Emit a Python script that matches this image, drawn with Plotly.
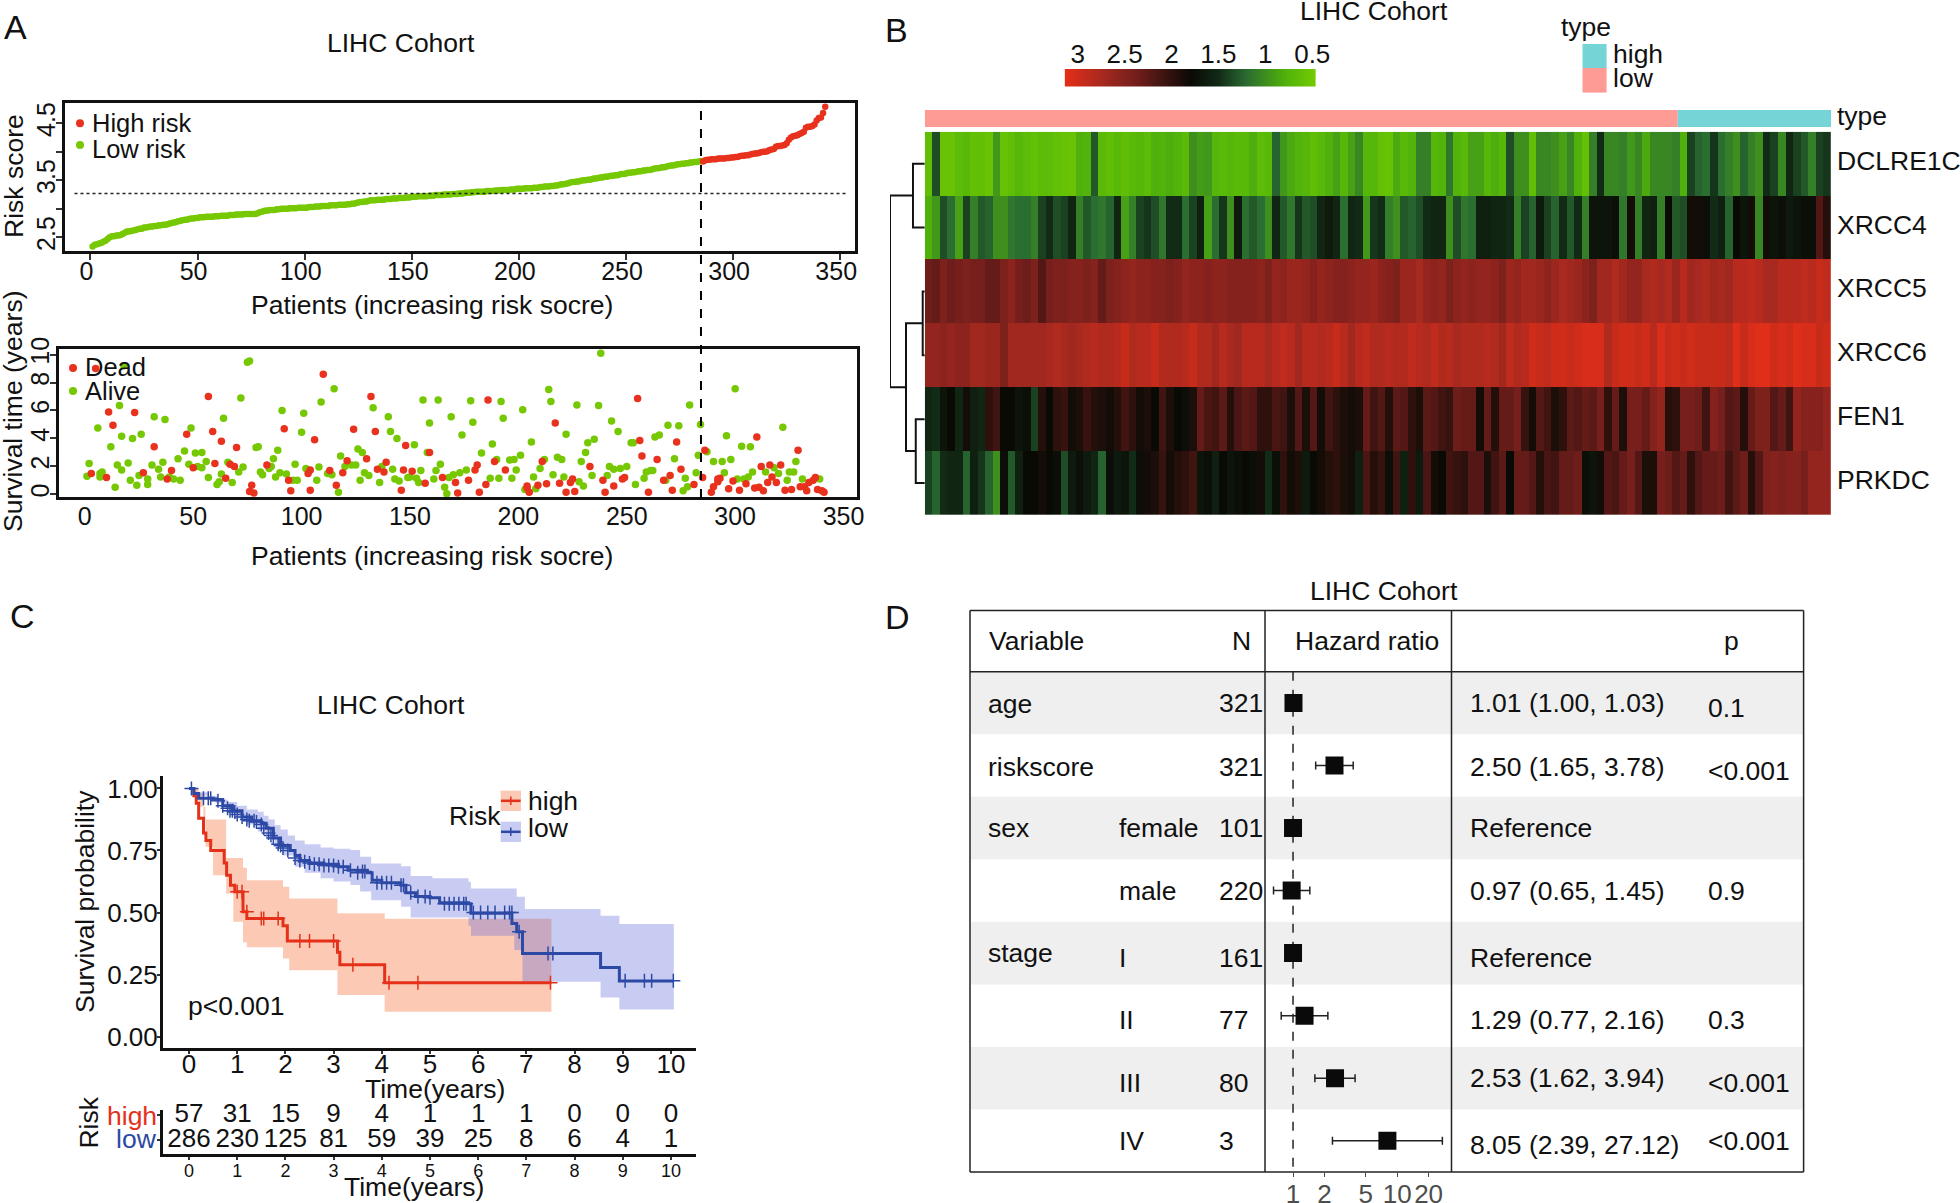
import plotly.graph_objects as go

W, H = 1960, 1203
FONT = "Liberation Sans"
RED = "#E8321E"
GREEN = "#76C803"

# ---------- Panel A data ----------
risk_score = [
2.34,2.37,2.38,2.39,2.40,2.42,2.44,2.47,2.50,2.52,
2.52,2.53,2.53,2.54,2.56,2.58,2.60,2.60,2.61,2.62,
2.63,2.64,2.65,2.65,2.67,2.67,2.68,2.69,2.69,2.70,
2.70,2.71,2.71,2.72,2.72,2.73,2.74,2.75,2.76,2.77,
2.78,2.79,2.80,2.81,2.81,2.82,2.83,2.83,2.84,2.84,
2.85,2.85,2.85,2.86,2.86,2.86,2.86,2.87,2.87,2.87,
2.88,2.88,2.88,2.88,2.89,2.89,2.89,2.90,2.90,2.90,
2.90,2.91,2.91,2.91,2.91,2.91,2.91,2.92,2.94,2.95,
2.96,2.97,2.97,2.98,2.98,2.98,2.99,2.99,3.00,3.00,
3.00,3.00,3.01,3.01,3.01,3.01,3.02,3.02,3.02,3.02,
3.02,3.03,3.03,3.03,3.04,3.04,3.04,3.05,3.05,3.05,
3.05,3.06,3.06,3.06,3.06,3.07,3.07,3.07,3.07,3.08,
3.08,3.09,3.09,3.10,3.11,3.12,3.12,3.13,3.13,3.14,
3.15,3.15,3.15,3.16,3.16,3.16,3.16,3.17,3.17,3.17,
3.18,3.18,3.18,3.19,3.19,3.19,3.20,3.20,3.20,3.21,
3.21,3.21,3.22,3.22,3.22,3.22,3.22,3.23,3.23,3.23,
3.24,3.24,3.24,3.24,3.25,3.25,3.25,3.25,3.26,3.26,
3.26,3.27,3.27,3.27,3.28,3.28,3.28,3.29,3.29,3.30,
3.30,3.30,3.30,3.30,3.31,3.31,3.31,3.31,3.32,3.32,
3.32,3.33,3.33,3.33,3.33,3.34,3.34,3.34,3.35,3.35,
3.35,3.35,3.36,3.36,3.36,3.36,3.37,3.37,3.37,3.38,
3.38,3.39,3.39,3.39,3.40,3.40,3.41,3.41,3.42,3.43,
3.43,3.44,3.45,3.46,3.47,3.47,3.48,3.48,3.49,3.50,
3.50,3.51,3.51,3.52,3.53,3.53,3.54,3.55,3.55,3.56,
3.56,3.57,3.58,3.58,3.59,3.59,3.60,3.61,3.61,3.62,
3.63,3.63,3.64,3.64,3.65,3.66,3.66,3.67,3.67,3.68,
3.68,3.69,3.70,3.71,3.71,3.72,3.73,3.73,3.74,3.75,
3.76,3.76,3.77,3.78,3.78,3.79,3.79,3.80,3.80,3.81,
3.81,3.82,3.82,3.83,3.84,3.83,3.85,3.86,3.86,3.87,
3.87,3.87,3.88,3.88,3.88,3.88,3.89,3.89,3.90,3.90,
3.91,3.91,3.92,3.93,3.93,3.94,3.94,3.95,3.96,3.97,
3.97,3.98,3.99,4.00,4.00,4.01,4.03,4.04,4.05,4.09,
4.10,4.10,4.11,4.12,4.15,4.21,4.25,4.27,4.28,4.29,
4.31,4.33,4.35,4.42,4.44,4.44,4.45,4.48,4.55,4.59,4.60,4.68,4.79]
low_n = 285
risk_cutoff = 3.27
patient_ticks = [0, 50, 100, 150, 200, 250, 300, 350]

dead_x = [3,5,10,11,13,23,27,32,38,40,47,50,57,59,60,63,65,67,69,70,76,77,78,84,92,94,95,103,104,104,106,110,113,116,119,121,124,130,132,134,135,138,139,146,147,148,151,157,159,165,171,172,177,180,181,182,185,186,189,194,204,204,205,209,211,213,217,219,222,224,225,226,233,239,240,244,248,249,255,256,257,260,264,267,270,271,273,275,281,285,286,289,290,292,292,293,297,299,302,305,309,310,311,312,313,315,316,317,319,321,323,326,329,330,332,333,334,336,337,338,340,341]
dead_y = [1.5,9.0,1.2,5.9,4.95,5.85,1.55,3.4,1.1,1.7,4.3,1.9,7.0,4.5,2.2,3.8,1.15,2.15,2.0,3.35,0.2,0.65,0.1,2.1,4.7,1.0,0.25,1.5,1.75,0.3,3.9,8.6,1.7,0.65,1.55,2.4,4.65,2.55,7.0,4.5,1.8,1.6,2.3,0.3,1.75,3.5,1.65,0.8,3.0,1.2,0.85,0.1,1.0,1.75,2.1,0.15,0.7,6.75,2.35,1.75,0.6,0.45,0.15,0.65,2.35,0.75,5.1,0.8,0.15,0.85,1.1,0.2,2.0,1.0,0.15,0.6,1.1,1.2,6.85,3.85,2.75,0.15,2.5,1.0,1.35,0.3,3.75,1.8,0.7,1.2,3.15,0.15,0.55,0.9,1.1,1.15,0.4,0.95,0.3,0.75,0.45,4.1,0.5,2.0,0.25,0.85,2.1,1.25,0.85,2.1,0.3,0.35,3.15,0.55,0.55,0.25,0.85,1.0,1.2,0.35,0.25,0.15]
alive_x = [1,2,6,7,7,8,12,14,15,16,17,17,18,20,21,22,24,25,26,29,29,31,32,34,35,36,37,39,41,43,44,46,48,49,51,52,54,54,56,57,61,62,63,64,66,68,71,72,73,75,76,79,80,81,82,85,86,87,88,89,90,91,93,96,97,98,100,101,102,107,108,109,112,114,115,117,118,120,123,125,126,127,128,129,131,133,136,137,140,141,142,143,144,145,149,150,152,153,154,155,156,158,159,161,162,163,164,166,167,168,169,170,173,174,176,178,179,183,187,188,190,191,192,193,196,197,198,199,201,202,203,206,207,208,210,212,214,215,216,218,220,221,222,227,228,229,230,231,232,234,235,237,238,241,242,243,244,246,247,250,252,253,254,258,259,261,262,263,265,268,269,272,274,276,277,278,279,282,283,284,287,290,294,295,296,298,300,301,303,304,306,307,308,314,318,320,322,324,325,327,328,331,339]
alive_y = [1.3,2.2,4.75,1.5,1.25,1.6,3.4,0.5,2.1,6.35,4.15,1.75,9.2,2.25,1.0,4.0,0.65,1.35,4.3,0.7,1.1,2.1,5.55,1.8,1.25,2.3,5.35,1.25,1.1,2.55,1.0,3.1,2.15,4.75,2.95,2.0,3.0,1.9,2.35,1.2,0.7,0.9,1.45,5.45,2.3,0.85,1.6,6.9,1.95,9.45,9.55,3.35,3.4,1.6,1.4,1.85,2.0,2.55,1.25,3.15,1.55,6.0,1.45,1.0,2.15,1.0,4.45,5.8,1.85,1.0,1.95,6.6,1.5,1.4,7.55,0.15,2.75,2.0,2.1,2.1,3.25,1.0,3.0,1.55,1.35,6.2,0.85,2.0,5.55,4.5,1.8,1.1,4.0,0.95,1.2,1.25,3.55,1.15,0.85,1.7,6.75,3.0,5.1,1.1,1.7,6.75,2.15,0.5,0.05,1.2,5.55,1.4,1.55,4.25,1.75,6.7,5.15,2.95,1.15,3.6,2.5,1.15,6.65,5.45,2.45,1.15,2.5,1.75,2.8,6.05,0.35,3.75,1.25,0.4,1.85,2.5,7.5,6.65,1.4,2.65,2.5,1.25,4.3,6.4,0.9,2.35,0.6,3.0,3.7,1.35,3.95,6.35,10.1,1.35,2.0,5.25,1.8,4.5,1.85,2.0,3.7,3.7,0.7,1.15,1.6,1.7,1.7,4.1,4.25,1.0,4.95,2.55,4.9,0.25,1.15,0.55,6.4,1.55,2.8,5.0,3.05,2.35,2.35,1.55,4.2,2.5,7.55,1.1,3.45,1.1,1.25,3.4,1.6,1.6,1.9,1.5,4.8,1.0,1.6,1.6,2.35,1.1,1.1]

# ---------- Panel B data (one value per ~3 patients, low -> high risk) ----------
genes = ["DCLRE1C", "XRCC4", "XRCC5", "XRCC6", "FEN1", "PRKDC"]
dclre1c = [.65,1.35,.58,.58,.68,.72,.62,.64,.58,.95,.6,.65,.75,.68,.62,.68,.68,.62,.6,.58,.8,.78,1.3,.7,.65,.72,.65,.72,.75,.68,.8,.78,.82,.78,.7,1.0,.92,.95,.75,.7,
 .75,.7,.72,.82,.68,.72,1.25,.95,.85,.78,.75,.65,.72,.8,.9,.75,.9,1.05,.75,.75,.62,.6,.85,.72,.78,1.1,1.1,.75,.78,1.15,.78,.72,.9,.9,.75,.82,.75,1.35,1.0,1.0,
 .65,1.05,1.05,1.0,.9,1.05,.8,.62,1.1,1.5,1.05,1.05,1.1,.95,1.05,.85,1.05,1.05,1.05,1.1,.8,1.4,1.25,1.2,1.45,1.2,1.1,1.0,1.25,1.1,1.0,1.5,1.4,1.05,1.55,1.4,1.3,1.1,1.4,1.45]
xrcc4 = [.8,.95,1.35,1.2,.9,1.4,1.1,1.3,1.25,1.0,1.0,1.15,1.2,1.2,1.1,1.4,1.5,1.35,1.4,1.55,1.1,1.3,1.2,1.15,1.25,1.55,.9,1.1,1.4,1.45,1.35,1.15,1.5,1.5,1.2,1.4,1.6,.9,1.2,1.45,
 1.0,1.65,1.2,1.3,1.2,1.0,1.55,1.3,1.15,1.45,1.3,1.35,1.55,1.65,1.55,1.2,1.55,1.5,.95,1.45,1.5,1.1,1.0,1.3,1.25,1.35,1.5,1.55,1.55,1.0,1.35,1.15,1.2,1.6,1.6,1.55,1.55,1.5,1.1,1.4,
 1.25,1.65,1.4,1.25,1.5,1.3,1.5,1.1,1.7,1.7,1.7,1.75,1.15,1.85,1.1,1.55,1.6,1.1,1.8,1.3,1.35,1.85,1.85,1.75,1.5,1.6,1.25,1.8,1.7,1.85,1.05,1.85,1.7,1.75,1.65,1.7,1.75,1.75,2.2,1.95]
xrcc5 = [2.35,2.3,2.45,2.35,2.4,2.45,2.4,2.4,2.3,2.3,2.45,2.55,2.4,2.35,2.45,2.2,2.4,2.45,2.45,2.5,2.5,2.45,2.5,2.3,2.45,2.5,2.55,2.6,2.55,2.55,2.5,2.5,2.45,2.5,2.6,2.55,2.55,2.5,2.55,2.55,
 2.5,2.5,2.5,2.5,2.55,2.45,2.6,2.55,2.65,2.65,2.6,2.5,2.6,2.55,2.5,2.5,2.55,2.6,2.6,2.65,2.55,2.5,2.45,2.65,2.65,2.75,2.6,2.55,2.6,2.45,2.55,2.6,2.55,2.6,2.6,2.55,2.45,2.65,2.6,2.7,
 2.7,2.65,2.55,2.65,2.75,2.7,2.65,2.55,2.45,2.7,2.7,2.8,2.7,2.6,2.6,2.75,2.8,2.75,2.8,2.65,2.85,2.7,2.75,2.8,2.7,2.75,2.7,2.85,2.85,2.9,2.85,2.75,2.75,2.85,2.85,2.85,2.9,2.85,2.95,2.9]
xrcc6 = [2.6,2.6,2.55,2.6,2.55,2.55,2.7,2.7,2.65,2.65,2.45,2.7,2.7,2.7,2.7,2.7,2.75,2.8,2.75,2.7,2.75,2.8,2.85,2.8,2.8,2.85,2.95,2.8,2.85,2.85,2.95,2.8,2.8,2.8,2.85,2.95,2.8,2.8,2.7,2.85,
 2.75,2.7,2.85,2.85,2.85,2.75,2.85,2.9,2.85,2.7,2.85,2.85,2.8,2.85,2.95,2.85,2.7,2.85,2.9,2.8,2.8,2.85,2.8,2.8,2.9,2.85,2.8,2.9,2.8,2.85,2.75,2.8,2.8,2.8,2.85,2.8,2.7,2.9,2.8,2.85,
 3.0,2.95,2.9,3.0,3.0,2.95,3.0,3.05,3.05,3.05,2.8,2.95,3.0,3.0,2.95,3.0,2.85,3.05,2.95,3.0,2.95,3.0,2.95,2.95,2.95,2.95,2.9,3.1,2.95,3.05,3.1,3.1,3.0,3.05,3.0,3.1,3.05,3.05,2.95,3.0]
fen1 = [1.55,1.5,1.7,1.8,1.55,1.85,1.6,1.55,2.0,2.1,1.8,1.8,1.7,1.75,1.4,1.95,1.8,2.0,2.05,1.85,1.9,2.05,1.95,1.9,1.85,1.95,2.1,2.0,1.85,1.9,1.8,2.1,1.9,1.8,1.75,1.9,2.3,2.15,2.1,2.25,
 1.95,2.15,2.25,2.2,2.0,2.0,2.15,2.1,1.9,2.2,1.9,2.2,1.85,2.1,2.0,1.9,1.85,1.9,2.3,2.1,2.2,1.95,2.25,2.2,2.0,1.9,2.25,2.2,2.1,2.05,2.35,2.3,2.3,1.85,2.3,1.95,2.3,2.3,2.4,2.05,
 1.85,2.2,2.1,1.9,2.0,2.25,2.2,2.3,2.25,2.4,2.0,2.3,1.9,2.4,2.4,2.3,2.5,2.6,1.95,2.0,2.4,2.4,2.35,2.1,2.5,2.4,2.2,2.25,1.95,2.3,2.45,2.45,2.2,2.3,2.1,2.6,2.5,2.5,2.5,2.6]
prkdc = [1.4,1.25,1.5,1.55,1.55,1.25,1.6,1.45,1.25,1.0,1.75,1.3,1.6,1.8,1.8,1.85,1.8,1.75,1.35,1.65,1.75,1.65,1.55,1.25,1.75,1.65,1.7,1.5,1.75,1.85,1.9,2.05,1.85,1.95,2.0,2.1,1.7,1.75,1.6,1.8,
 1.7,1.75,1.8,1.75,1.85,1.5,1.75,2.0,1.85,1.9,1.65,1.8,1.85,1.95,2.0,1.9,1.85,1.6,2.15,1.95,2.05,1.75,2.1,1.6,2.0,1.65,2.15,1.85,1.8,2.1,2.05,2.0,2.2,2.2,1.9,2.1,2.25,1.8,2.3,2.3,
 2.2,1.95,2.15,2.1,2.3,2.3,2.35,1.75,1.7,1.85,2.2,2.15,2.3,2.4,2.2,1.9,1.9,2.4,2.35,2.2,2.3,2.0,2.2,2.3,2.3,2.35,2.1,2.25,2.35,1.95,2.2,2.45,2.5,2.45,2.5,2.5,2.4,2.6,2.6,2.6]
heat_z = [dclre1c, xrcc4, xrcc5, xrcc6, fen1, prkdc]
heat_min, heat_max = 0.46, 3.14
scale_values = [3.14, 3, 2.5, 2, 1.5, 1, 0.5, 0.46]
scale_ticks = [3, 2.5, 2, 1.5, 1, 0.5]
scale_labels = ["3", "2.5", "2", "1.5", "1", "0.5"]
heat_colors = [[0, "#76CC00"], [0.12, "#52B40A"], [0.28, "#2A6C32"], [0.39, "#122A16"], [0.5, "#0A0A05"],
               [0.72, "#751F1C"], [0.85, "#A6291F"], [1, "#E52E18"]]
# dendrogram merges: (row a, height a, row b, height b, merge height)
dendro = [(0.5, 0, 1.5, 0, 0.34), (2.5, 0, 3.5, 0, 0.06), (4.5, 0, 5.5, 0, 0.26),
          (3.0, 0.06, 5.0, 0.26, 0.54), (1.0, 0.34, 4.0, 0.54, 1.0)]

# ---------- Panel C data ----------
high_t = [0,0.1,0.15,0.2,0.3,0.35,0.45,0.73,0.78,0.86,0.95,1.12,1.2,1.95,2.04,3.08,3.13,4.06,7.52]
high_s = [1,0.97,0.94,0.88,0.82,0.79,0.75,0.70,0.65,0.61,0.584,0.503,0.476,0.447,0.385,0.34,0.29,0.217,0.217]
high_up_t = [0,0.1,0.3,0.77,0.92,1.12,1.2,1.95,2.08,3.08,4.06,7.52]
high_up = [1,0.98,0.875,0.72,0.72,0.68,0.63,0.604,0.557,0.497,0.475,0.475]
high_lo_t = [0,0.2,0.34,0.5,0.77,0.92,1.12,1.2,1.95,2.08,3.08,4.06,7.52]
high_lo = [1,0.926,0.765,0.65,0.577,0.463,0.38,0.36,0.315,0.268,0.168,0.10,0.10]
high_cens_t = [1.0,1.1,1.2,1.5,1.55,1.85,2.3,2.5,3.0,3.4,4.15,4.75,7.5]
high_cens_s = [0.584,0.584,0.503,0.476,0.476,0.476,0.385,0.385,0.385,0.29,0.217,0.217,0.217]
low_t = [0,0.1,0.2,0.5,0.7,0.9,1.1,1.3,1.5,1.6,1.75,1.9,2.1,2.2,2.3,2.5,2.8,3.1,3.3,3.7,3.8,4.0,4.4,4.5,4.7,5.0,5.2,5.8,5.85,6.7,6.8,6.92,8.54,8.93,10.06]
low_s = [1,0.98,0.96,0.955,0.93,0.91,0.885,0.87,0.86,0.84,0.80,0.77,0.75,0.73,0.71,0.70,0.695,0.685,0.67,0.66,0.63,0.62,0.61,0.58,0.565,0.56,0.54,0.535,0.497,0.456,0.423,0.335,0.279,0.224,0.224]
low_up_t = [0,0.2,0.4,0.6,0.8,1.0,1.2,1.43,1.55,1.65,1.78,1.9,2.05,2.2,2.4,2.73,3.0,3.35,3.55,3.78,4.4,4.6,5.05,5.8,5.85,6.7,6.8,6.97,8.54,8.93,10.06]
low_up = [1,0.985,0.97,0.955,0.945,0.93,0.915,0.906,0.89,0.875,0.852,0.835,0.81,0.79,0.775,0.762,0.757,0.752,0.725,0.698,0.687,0.647,0.638,0.624,0.597,0.597,0.564,0.514,0.487,0.454,0.454]
low_lo_t = [0,0.2,0.4,0.55,0.75,1.0,1.2,1.43,1.6,1.78,1.95,2.2,2.4,2.73,3.0,3.35,3.55,3.78,4.4,4.6,5.8,5.85,6.7,6.75,6.92,8.54,8.93,10.06]
low_lo = [1,0.97,0.955,0.94,0.915,0.88,0.855,0.826,0.795,0.758,0.73,0.685,0.66,0.638,0.625,0.611,0.585,0.55,0.523,0.48,0.447,0.407,0.407,0.349,0.221,0.158,0.11,0.11]
low_cens_t = [0.05,0.3,0.4,0.45,0.6,0.7,0.8,0.85,0.9,0.95,1.0,1.1,1.2,1.25,1.35,1.4,1.5,1.55,1.65,1.7,1.75,1.85,1.9,1.95,2.05,2.2,2.3,2.4,2.5,2.6,2.7,2.8,2.9,3.0,3.1,3.2,3.35,3.5,3.6,3.65,3.9,4.0,4.1,4.2,4.4,4.45,4.6,4.75,4.9,5.0,5.3,5.4,5.5,5.6,5.7,5.75,5.9,6.05,6.2,6.35,6.55,6.65,6.7,6.85,7.45,7.55,9.05,9.45,9.6,10.05]
low_cens_s = [1,0.96,0.96,0.96,0.95,0.93,0.92,0.91,0.91,0.905,0.895,0.885,0.875,0.87,0.87,0.865,0.855,0.84,0.82,0.81,0.80,0.775,0.77,0.76,0.75,0.72,0.71,0.705,0.70,0.695,0.695,0.69,0.69,0.69,0.685,0.685,0.67,0.66,0.665,0.665,0.62,0.62,0.62,0.62,0.61,0.61,0.58,0.565,0.565,0.56,0.535,0.535,0.535,0.535,0.535,0.535,0.50,0.50,0.50,0.50,0.50,0.50,0.50,0.423,0.335,0.335,0.225,0.225,0.225,0.225]
years = [0,1,2,3,4,5,6,7,8,9,10]
at_risk_high = [57,31,15,9,4,1,1,1,0,0,0]
at_risk_low = [286,230,125,81,59,39,25,8,6,4,1]
surv_ticks = [0, 0.25, 0.5, 0.75, 1]
surv_labels = ["0.00", "0.25", "0.50", "0.75", "1.00"]
KM_RED = "#E5301A"
KM_BLUE = "#2C49A5"

# ---------- Panel D data ----------
hr_mean = [1.01, 2.50, 1, 0.97, 1, 1.29, 2.53, 8.05]
hr_low = [1.00, 1.65, 1, 0.65, 1, 0.77, 1.62, 2.39]
hr_high = [1.03, 3.78, 1, 1.45, 1, 2.16, 3.94, 27.12]
var_names = ["age", "riskscore", "sex", "", "stage", "", "", ""]
sub_names = ["", "", "female", "male", "I", "II", "III", "IV"]
n_labels = ["321", "321", "101", "220", "161", "77", "80", "3"]
hr_labels = ["1.01 (1.00, 1.03)", "2.50 (1.65, 3.78)", "Reference", "0.97 (0.65, 1.45)",
             "Reference", "1.29 (0.77, 2.16)", "2.53 (1.62, 3.94)", "8.05 (2.39, 27.12)"]
p_labels = ["0.1", "<0.001", "", "0.9", "", "0.3", "<0.001", "<0.001"]
hr_ticks = [1, 2, 5, 10, 20]


def xd(a, b):
    return [a / W, b / W]


def yd(top, bot):
    return [1 - bot / H, 1 - top / H]


def px(x):
    return x / W


def py(y):
    return 1 - y / H


annotations = []
shapes = []


def label(x, y, text, size=26.5, anchor="center", color="#111111", angle=0):
    nudge = {"left": -2.5, "right": 2.5}.get(anchor, 0)
    annotations.append(dict(x=px(x + nudge), y=py(y), xref="paper", yref="paper", text=text, showarrow=False,
                            xanchor=anchor, yanchor="middle", textangle=angle,
                            font=dict(family=FONT, size=size, color=color)))


def rect(x0, y0, x1, y1, fill, line=None, width=0):
    shapes.append(dict(type="rect", xref="paper", yref="paper", x0=px(x0), x1=px(x1), y0=py(y1), y1=py(y0),
                       fillcolor=fill, line=dict(color=line or fill, width=width), layer="above"))


def seg(x0, y0, x1, y1, color="#222222", width=1.5, dash="solid"):
    shapes.append(dict(type="line", xref="paper", yref="paper", x0=px(x0), x1=px(x1), y0=py(y0), y1=py(y1),
                       line=dict(color=color, width=width, dash=dash), layer="above"))


def dot(x, y, r, color):
    shapes.append(dict(type="circle", xref="paper", yref="paper", x0=px(x - r), x1=px(x + r),
                       y0=py(y + r), y1=py(y - r), fillcolor=color, line=dict(width=0), layer="above"))


fig = go.Figure()
tickfont = dict(family=FONT, size=26, color="#111111")
tickfont_a = dict(family=FONT, size=25, color="#111111")

# ---------- Panel A top ----------
patients = list(range(1, len(risk_score) + 1))
fig.add_trace(go.Scatter(x=patients[:low_n], y=risk_score[:low_n], mode="markers", xaxis="x", yaxis="y",
                         marker=dict(size=6.5, color=GREEN)))
fig.add_trace(go.Scatter(x=patients[low_n:], y=risk_score[low_n:], mode="markers", xaxis="x", yaxis="y",
                         marker=dict(size=6.5, color=RED)))
# ---------- Panel A bottom ----------
fig.add_trace(go.Scatter(x=alive_x, y=alive_y, mode="markers", xaxis="x2", yaxis="y2",
                         marker=dict(size=7.5, color=GREEN)))
fig.add_trace(go.Scatter(x=dead_x, y=dead_y, mode="markers", xaxis="x2", yaxis="y2",
                         marker=dict(size=7.5, color=RED)))

# ---------- Panel B ----------
bin_width = len(risk_score) / len(dclre1c)
fig.add_trace(go.Heatmap(z=heat_z, x0=0.5 + bin_width / 2, dx=bin_width, y=[i + 0.5 for i in range(6)],
                         xaxis="x3", yaxis="y3", zmin=heat_min, zmax=heat_max, colorscale=heat_colors,
                         showscale=False))
dx, dy = [], []
for ya, ha, yb, hb, h in dendro:
    dx += [ha, h, h, hb, None]
    dy += [ya, ya, yb, yb, None]
fig.add_trace(go.Scatter(x=dx, y=dy, mode="lines", xaxis="x4", yaxis="y4", line=dict(color="#111111", width=2)))
fig.add_trace(go.Heatmap(z=[scale_values], x=scale_values, y=[0], xaxis="x5", yaxis="y5", zmin=heat_min,
                         zmax=heat_max, colorscale=heat_colors, showscale=False, zsmooth="best"))

# ---------- Panel C ----------
FILL_HIGH = "rgba(248,120,70,0.40)"
FILL_LOW = "rgba(90,100,215,0.33)"
none_line = dict(width=0, shape="hv")
fig.add_trace(go.Scatter(x=high_up_t, y=high_up, mode="lines", line=none_line, xaxis="x6", yaxis="y6"))
fig.add_trace(go.Scatter(x=high_lo_t, y=high_lo, mode="lines", line=none_line, fill="tonexty",
                         fillcolor=FILL_HIGH, xaxis="x6", yaxis="y6"))
fig.add_trace(go.Scatter(x=low_up_t, y=low_up, mode="lines", line=none_line, xaxis="x6", yaxis="y6"))
fig.add_trace(go.Scatter(x=low_lo_t, y=low_lo, mode="lines", line=none_line, fill="tonexty",
                         fillcolor=FILL_LOW, xaxis="x6", yaxis="y6"))
fig.add_trace(go.Scatter(x=high_t, y=high_s, mode="lines", line=dict(color=KM_RED, width=3, shape="hv"),
                         xaxis="x6", yaxis="y6"))
fig.add_trace(go.Scatter(x=low_t, y=low_s, mode="lines", line=dict(color=KM_BLUE, width=3, shape="hv"),
                         xaxis="x6", yaxis="y6"))
fig.add_trace(go.Scatter(x=high_cens_t, y=high_cens_s, mode="markers", xaxis="x6", yaxis="y6",
                         marker=dict(symbol="cross-thin", size=10, line=dict(color=KM_RED, width=1.5))))
fig.add_trace(go.Scatter(x=low_cens_t, y=low_cens_s, mode="markers", xaxis="x6", yaxis="y6",
                         marker=dict(symbol="cross-thin", size=10, line=dict(color=KM_BLUE, width=1.5))))
# risk table
fig.add_trace(go.Scatter(x=years, y=[1] * len(years), text=[str(v) for v in at_risk_high], mode="text",
                         textfont=tickfont, xaxis="x7", yaxis="y7", cliponaxis=False))
fig.add_trace(go.Scatter(x=years, y=[0] * len(years), text=[str(v) for v in at_risk_low], mode="text",
                         textfont=tickfont, xaxis="x7", yaxis="y7", cliponaxis=False))

# ---------- Panel D ----------
rows = [i + 0.5 for i in range(8)]
fig.add_trace(go.Scatter(x=[1, 1], y=[0, 8], mode="lines", line=dict(color="#222222", width=1.5, dash="dash"),
                         xaxis="x8", yaxis="y8"))
fig.add_trace(go.Scatter(x=hr_mean, y=rows, mode="markers", xaxis="x8", yaxis="y8",
                         marker=dict(symbol="square", size=18, color="#0a0a0a"),
                         error_x=dict(type="data", symmetric=False,
                                      array=[h - m for h, m in zip(hr_high, hr_mean)],
                                      arrayminus=[m - l for m, l in zip(hr_mean, hr_low)],
                                      color="#222222", thickness=1.5, width=4)))

# grey table bands
for i in (0, 2, 4, 6):
    shapes.append(dict(type="rect", xref="paper", yref="y8", x0=px(971), x1=px(1803), y0=i, y1=i + 1,
                       fillcolor="#EFEFEF", line=dict(width=0), layer="below"))

# ---------- layout of axes ----------
frame = dict(showline=True, mirror=True, linecolor="#111111", linewidth=2.5, showgrid=False, zeroline=False,
             ticks="outside", ticklen=6, tickwidth=1.5, tickcolor="#333333", tickfont=tickfont_a, automargin=False)
plain = dict(visible=False, showgrid=False, zeroline=False, automargin=False)
open_axis = dict(showline=True, linecolor="#111111", linewidth=3, showgrid=False, zeroline=False,
                 ticks="outside", ticklen=3, tickwidth=1.5, tickcolor="#333333", tickfont=tickfont, automargin=False)

layout = dict(
    width=W, height=H, margin=dict(l=0, r=0, t=0, b=0), autosize=False, showlegend=False,
    paper_bgcolor="white", plot_bgcolor="rgba(0,0,0,0)",
    font=dict(family=FONT, size=25, color="#111111"),
    xaxis=dict(frame, domain=xd(65, 855), range=[-11.9, 356.9], anchor="y", tickvals=patient_ticks,
               ticklabelstandoff=-10, ticklabelshift=-4),
    yaxis=dict(frame, domain=yd(103, 251), range=[2.26, 4.855], anchor="x", tickangle=-90,
               tickvals=[2.5, 3, 3.5, 4, 4.5], ticktext=["2.5", "", "3.5", "", "4.5"], ticklabelstandoff=-9),
    xaxis2=dict(frame, domain=xd(59, 857), range=[-11.9, 356.2], anchor="y2", tickvals=patient_ticks, ticks="",
                ticklabelstandoff=-5),
    yaxis2=dict(frame, domain=yd(349, 497), range=[-0.19, 10.4], anchor="x2", tickangle=-90,
                tickvals=[0, 2, 4, 6, 8, 10], ticklabelstandoff=-9),
    xaxis3=dict(plain, domain=xd(924.8, 1831), range=[0.5, 343.5], anchor="y3"),
    yaxis3=dict(domain=yd(131.7, 515), range=[6, 0], anchor="x3", side="right", showgrid=False, zeroline=False,
                showline=False, ticks="", showticklabels=False, automargin=False),
    xaxis4=dict(plain, domain=xd(890, 924.8), range=[1, 0], anchor="y4"),
    yaxis4=dict(plain, domain=yd(131.7, 515), range=[6, 0], anchor="x4"),
    xaxis5=dict(domain=xd(1064.6, 1316), range=[3.14, 0.46], anchor="y5", side="top", showgrid=False,
                zeroline=False, showline=False, ticks="", tickvals=scale_ticks, ticktext=scale_labels,
                tickfont=tickfont, automargin=False),
    yaxis5=dict(plain, domain=yd(69, 86.5), range=[-0.5, 0.5], anchor="x5"),
    xaxis6=dict(open_axis, domain=xd(163, 695.5), range=[-0.54, 10.51], anchor="y6", tickvals=years,
                ticklabelstandoff=-12),
    yaxis6=dict(open_axis, domain=yd(776, 1048), range=[-0.0455, 1.05], anchor="x6", tickvals=surv_ticks,
                ticktext=surv_labels, ticklabelstandoff=-6),
    xaxis7=dict(open_axis, domain=xd(163, 695.5), range=[-0.54, 10.51], anchor="y7", tickvals=years,
                tickfont=dict(family=FONT, size=18, color="#111111"), ticklabelstandoff=-5),
    yaxis7=dict(open_axis, domain=yd(1110, 1154), range=[-0.56, 1.2], anchor="x7", tickvals=[0, 1],
                showticklabels=False),
    xaxis8=dict(domain=xd(1265, 1451.5), type="log", range=[-0.269, 1.521], anchor="y8", showgrid=False,
                zeroline=False, showline=False, ticks="outside", ticklen=4, tickwidth=1.2, tickcolor="#444444",
                tickvals=hr_ticks, ticktext=[str(v) for v in hr_ticks], automargin=False, ticklabelstandoff=-5,
                tickfont=dict(family=FONT, size=26, color="#4d4d4d")),
    yaxis8=dict(plain, domain=yd(671.7, 1172), range=[8, 0], anchor="x8"),
)

# ---------- gene labels beside the heatmap ----------
for i, gene in enumerate(genes):
    annotations.append(dict(x=px(1835), y=i + 0.5, xref="paper", yref="y3", yshift=3, text=gene, showarrow=False,
                            xanchor="left", yanchor="middle", font=dict(family=FONT, size=26.5, color="#111111")))

# ---------- reference lines in panel A ----------
shapes.append(dict(type="line", xref="x", x0=low_n, x1=low_n, yref="paper", y0=py(498), y1=py(101),
                   line=dict(color="#000000", width=2, dash="dash"), layer="above"))
shapes.append(dict(type="line", xref="x domain", x0=0.012, x1=0.99, yref="y", y0=risk_cutoff, y1=risk_cutoff,
                   line=dict(color="#222222", width=1.5, dash="dot"), layer="above"))

# ---------- panel B annotation bar and legend ----------
shapes.append(dict(type="rect", xref="x3", yref="paper", x0=0.5, x1=low_n + 0.5, y0=py(127), y1=py(110),
                   fillcolor="#FF9B95", line=dict(width=0)))
shapes.append(dict(type="rect", xref="x3", yref="paper", x0=low_n + 0.5, x1=len(risk_score) + 0.5, y0=py(127),
                   y1=py(110), fillcolor="#74D4D6", line=dict(width=0)))
rect(1582.5, 44, 1606.6, 68, "#74D4D6")
rect(1582.5, 68, 1606.6, 92.6, "#FF9B95")
label(1586, 27, "type")
label(1613, 54, "high", anchor="left")
label(1613, 78, "low", anchor="left")
label(1837, 116.5, "type", anchor="left")

# ---------- panel A texts ----------
label(15, 27, "A", size=34)
label(401, 42.5, "LIHC Cohort")
label(14, 176, "Risk score", angle=-90)
label(432, 305, "Patients (increasing risk socre)")
label(13, 411, "Survival time (years)", angle=-90)
label(432, 556, "Patients (increasing risk socre)")
dot(80, 123.3, 4, RED)
dot(80, 145, 4, GREEN)
label(92.5, 123, "High risk", size=25.5, anchor="left")
label(92.5, 149, "Low risk", size=25.5, anchor="left")
dot(73, 368, 4, RED)
dot(73, 391, 4, GREEN)
label(85, 367, "Dead", size=25.5, anchor="left")
label(85, 391, "Alive", size=25.5, anchor="left")

# ---------- panel B texts ----------
label(896, 30, "B", size=34)
label(1374, 11, "LIHC Cohort")

# ---------- panel C texts ----------
label(22, 616, "C", size=34)
label(391, 705, "LIHC Cohort")
label(85, 902, "Survival probability", angle=-90)
label(188, 1006, "p<0.001", anchor="left")
label(474.6, 816, "Risk")
label(528, 800.7, "high", anchor="left")
label(528, 828, "low", anchor="left")
rect(500.6, 790.7, 521, 811, "rgba(248,120,70,0.40)")
rect(500.6, 821.7, 521, 842, "rgba(90,100,215,0.33)")
seg(501, 800.8, 520.6, 800.8, KM_RED, 2.5)
seg(510.8, 796.5, 510.8, 805, KM_RED, 1.5)
seg(501, 831.8, 520.6, 831.8, KM_BLUE, 2.5)
seg(510.8, 827.5, 510.8, 836, KM_BLUE, 1.5)
label(434.6, 1089, "Time(years)")
label(88.6, 1123, "Risk", angle=-90)
label(156, 1116, "high", anchor="right", color=KM_RED)
label(156, 1139, "low", anchor="right", color=KM_BLUE)
label(413.5, 1187, "Time(years)")

# ---------- panel D texts ----------
label(897, 617, "D", size=34)
label(1383.5, 591, "LIHC Cohort")
label(989, 640.6, "Variable", anchor="left")
label(1241, 640.6, "N")
label(1295.7, 640.6, "Hazard ratio", anchor="left")
label(1731, 640.6, "p")
var_y = [704, 766.6, 828, 0, 953.5, 0, 0, 0]
sub_y = [0, 0, 828, 891, 958, 1020, 1083, 1141]
n_y = [703, 766.6, 828, 891, 958, 1020, 1083, 1141]
hr_y = [703, 766.6, 828, 891, 958, 1020, 1078, 1145]
p_y = [708, 770.6, 0, 891, 0, 1020, 1083, 1141]
for i in range(8):
    if var_names[i]:
        label(988.5, var_y[i], var_names[i], anchor="left")
    if sub_names[i]:
        label(1119, sub_y[i], sub_names[i], anchor="left")
    label(1219, n_y[i], n_labels[i], anchor="left")
    label(1470, hr_y[i], hr_labels[i], anchor="left")
    if p_labels[i]:
        label(1708, p_y[i], p_labels[i], anchor="left")
seg(970, 610.4, 1803.6, 610.4)
seg(970, 1172, 1803.6, 1172)
seg(970, 610.4, 970, 1172)
seg(1803.6, 610.4, 1803.6, 1172)
seg(970, 671.7, 1803.6, 671.7)
seg(1265, 610.4, 1265, 1172)
seg(1451.5, 610.4, 1451.5, 1172)

layout["annotations"] = annotations
layout["shapes"] = shapes
fig.update_layout(**layout)
fig.update_traces(hoverinfo="skip")

fig.write_html("out.html", post_script="document.body.style.margin='0';",
               config={"displayModeBar": False})
